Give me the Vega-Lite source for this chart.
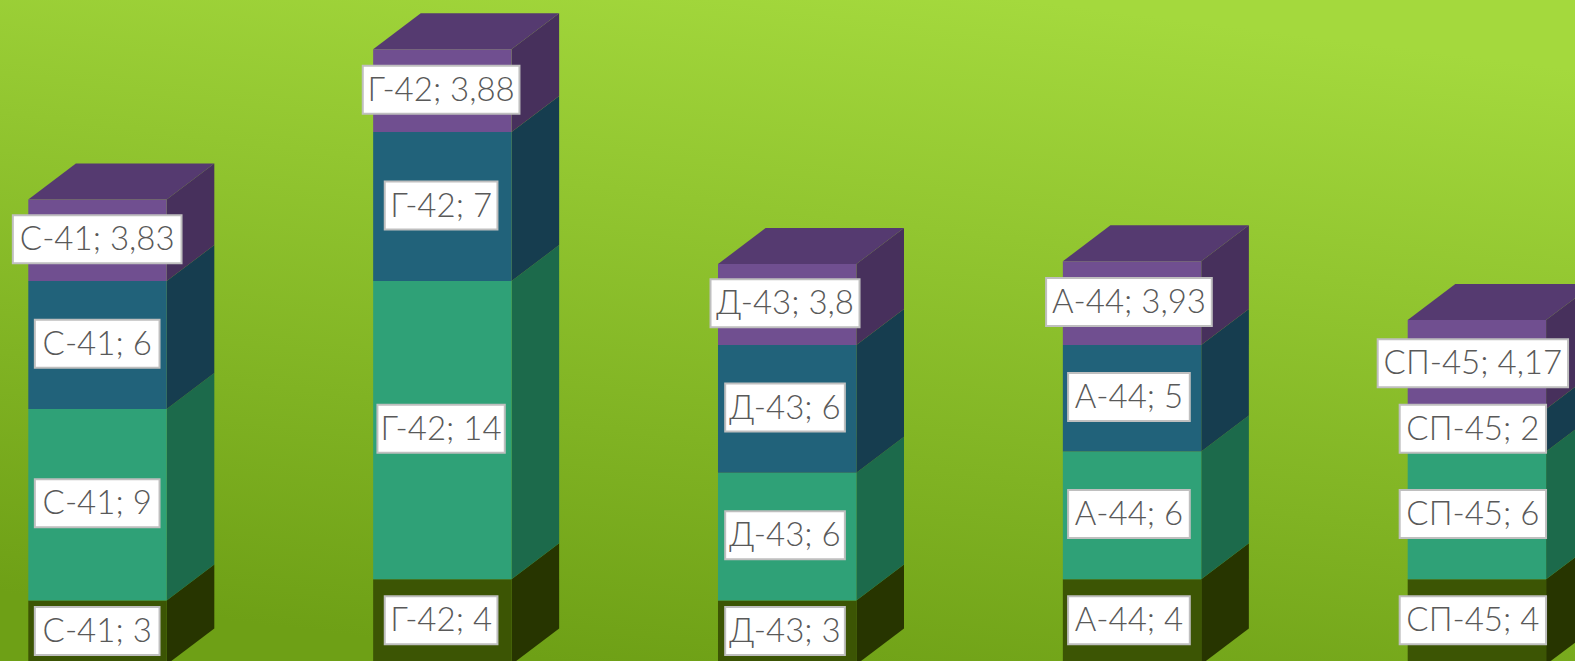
{"$schema":"https://vega.github.io/schema/vega-lite/v6.json","width":1575,"height":661,"autosize":{"type":"none"},"padding":0,"background":"#8fbf2c","config":{"view":{"stroke":null,"fill":{"gradient":"linear","x1":0.65,"y1":0,"x2":0.35,"y2":1,"stops":[{"offset":0,"color":"#A4D93D"},{"offset":1,"color":"#6EA016"}]}}},"data":{"values":[{"cat":"С-41","series":"Ряд 1","value":3},{"cat":"С-41","series":"Ряд 2","value":9},{"cat":"С-41","series":"Ряд 3","value":6},{"cat":"С-41","series":"Ряд 4","value":3.83},{"cat":"Г-42","series":"Ряд 1","value":4},{"cat":"Г-42","series":"Ряд 2","value":14},{"cat":"Г-42","series":"Ряд 3","value":7},{"cat":"Г-42","series":"Ряд 4","value":3.88},{"cat":"Д-43","series":"Ряд 1","value":3},{"cat":"Д-43","series":"Ряд 2","value":6},{"cat":"Д-43","series":"Ряд 3","value":6},{"cat":"Д-43","series":"Ряд 4","value":3.8},{"cat":"А-44","series":"Ряд 1","value":4},{"cat":"А-44","series":"Ряд 2","value":6},{"cat":"А-44","series":"Ряд 3","value":5},{"cat":"А-44","series":"Ряд 4","value":3.93},{"cat":"СП-45","series":"Ряд 1","value":4},{"cat":"СП-45","series":"Ряд 2","value":6},{"cat":"СП-45","series":"Ряд 3","value":2},{"cat":"СП-45","series":"Ряд 4","value":4.17}]},"transform":[{"stack":"value","groupby":["cat"],"sort":[{"field":"series","order":"ascending"}],"as":["lo","hi"]},{"calculate":"indexof(['С-41','Г-42','Д-43','А-44','СП-45'],datum.cat)","as":"i"},{"calculate":"datum.cat+'; '+replace(''+datum.value,'.',',')","as":"label"},{"calculate":"datum.i-0.20067","as":"xl"},{"calculate":"datum.i+0.20067","as":"xr"},{"calculate":"datum.i*0.9973-0.0009","as":"lx"},{"calculate":"0.08+0.9985*(datum.lo+datum.hi)/2","as":"mid"},{"calculate":"(14.67*length(datum.label)+22+{'С-41':0,'Г-42':-12,'Д-43':-5,'А-44':-3,'СП-45':7}[datum.cat])/689.7","as":"hb"}],"resolve":{"scale":{"color":"independent"}},"layer":[{"transform":[{"calculate":"[0,1]","as":"k"},{"flatten":["k"]},{"calculate":"datum.xr+datum.k*0.13803","as":"sx"},{"calculate":"datum.lo+datum.k*1.69","as":"sy"},{"calculate":"datum.hi+datum.k*1.69","as":"sy2"}],"mark":{"type":"area","opacity":1,"interpolate":"linear","clip":true},"encoding":{"x":{"field":"sx","type":"quantitative","scale":{"domain":[-0.28273,4.28447],"nice":false,"zero":false},"axis":null},"y":{"field":"sy","type":"quantitative","scale":{"domain":[0.164,31.197],"nice":false,"zero":false},"axis":null,"stack":null},"y2":{"field":"sy2"},"detail":{"field":"cat"},"color":{"field":"series","type":"nominal","scale":{"domain":["Ряд 1","Ряд 2","Ряд 3","Ряд 4"],"range":["#273500","#1C6A4B","#163D4F","#47305C"]},"legend":null}}},{"transform":[{"filter":"datum.series==='Ряд 4'"},{"calculate":"[0,1,2,3]","as":"k"},{"flatten":["k"]},{"calculate":"datum.k==0?datum.xl:datum.k==1?datum.xl+0.13803:datum.k==2?datum.xr:datum.xr+0.13803","as":"tx"},{"calculate":"datum.k==3?datum.hi+1.69:datum.hi","as":"ty"},{"calculate":"datum.k==0?datum.hi:datum.hi+1.69","as":"ty2"}],"mark":{"type":"area","opacity":1,"color":"#553A70","interpolate":"linear","clip":true},"encoding":{"x":{"field":"tx","type":"quantitative"},"y":{"field":"ty","type":"quantitative","stack":null},"y2":{"field":"ty2"},"detail":{"field":"cat"}}},{"mark":{"type":"rect","clip":true},"encoding":{"x":{"field":"xl","type":"quantitative"},"x2":{"field":"xr"},"y":{"field":"lo","type":"quantitative","stack":null},"y2":{"field":"hi"},"color":{"field":"series","type":"nominal","scale":{"domain":["Ряд 1","Ряд 2","Ряд 3","Ряд 4"],"range":["#3C5504","#2FA177","#21627A","#704F90"]},"legend":null}}},{"transform":[{"calculate":"datum.lx-datum.hb","as":"bx"},{"calculate":"datum.lx+datum.hb","as":"bx2"},{"calculate":"datum.mid-1.127","as":"by"},{"calculate":"datum.mid+1.127","as":"by2"}],"mark":{"type":"rect","fill":"#FFFFFF","stroke":"#BFBFBF","strokeWidth":2},"encoding":{"x":{"field":"bx","type":"quantitative"},"x2":{"field":"bx2"},"y":{"field":"by","type":"quantitative","stack":null},"y2":{"field":"by2"}}},{"mark":{"type":"text","font":"Lato","fontWeight":300,"fontSize":33,"color":"#595959","align":"center","baseline":"middle","dy":1},"encoding":{"x":{"field":"lx","type":"quantitative"},"y":{"field":"mid","type":"quantitative","stack":null},"text":{"field":"label","type":"nominal"}}}]}
